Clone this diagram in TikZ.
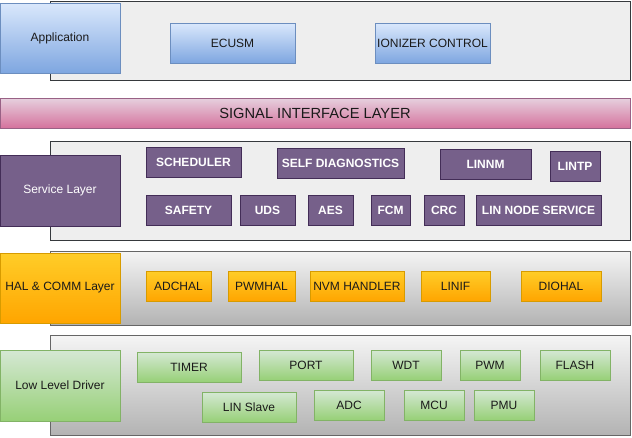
\documentclass[tikz,border=0pt]{standalone}
\usepackage{fontspec}
\setmainfont{Liberation Sans}
\definecolor{bgfill}{HTML}{EEEEEE}
\definecolor{bgline}{HTML}{36393D}
\definecolor{grtop}{HTML}{F5F5F5}
\definecolor{grbot}{HTML}{B3B3B3}
\definecolor{grline}{HTML}{666666}
\definecolor{bltop}{HTML}{DAE8FC}
\definecolor{blbot}{HTML}{7EA6E0}
\definecolor{blline}{HTML}{6C8EBF}
\definecolor{pktop}{HTML}{E6D0DE}
\definecolor{pkbot}{HTML}{D5739D}
\definecolor{pkline}{HTML}{996185}
\definecolor{pufill}{HTML}{76608A}
\definecolor{puline}{HTML}{432D57}
\definecolor{ortop}{HTML}{FFCD28}
\definecolor{orbot}{HTML}{FFA500}
\definecolor{orline}{HTML}{D79B00}
\definecolor{gntop}{HTML}{D5E8D4}
\definecolor{gnbot}{HTML}{97D077}
\definecolor{gnline}{HTML}{82B366}
\definecolor{txt}{HTML}{1A1A1A}
\newcommand\bx[7]{\node[#6, anchor=north west, minimum width={(#4-#2)*0.75pt}, minimum height={(#5-#3)*0.75pt}] (#1) at (#2,#3) {#7};}
\tikzset{
  base/.style={rectangle, draw, line width=0.75pt, inner sep=0pt, outer sep=0pt, text=txt, font=\fontsize{9}{11}\selectfont},
  plainbg/.style={base, fill=bgfill, draw=bgline},
  graybg/.style={base, top color=grtop, bottom color=grbot, draw=grline},
  bluebox/.style={base, top color=bltop, bottom color=blbot, draw=blline},
  pinkbox/.style={base, top color=pktop, bottom color=pkbot, draw=pkline, font=\fontsize{11}{13}\selectfont},
  purplebox/.style={base, fill=pufill, draw=puline, text=white, font=\fontsize{9}{11}\selectfont\bfseries},
  purplelayer/.style={base, fill=pufill, draw=puline, text=white},
  orangebox/.style={base, top color=ortop, bottom color=orbot, draw=orline},
  greenbox/.style={base, top color=gntop, bottom color=gnbot, draw=gnline},
}
\begin{document}
\begin{tikzpicture}[x=0.75pt,y=-0.75pt]
\useasboundingbox (0,0) rectangle (632,437);
% application row
\bx{appbg}{50}{1}{630}{80}{plainbg}{}
\bx{app}{0}{3}{120}{73}{bluebox}{Application}
\bx{ecusm}{170}{23}{295}{63}{bluebox}{ECUSM}
\bx{ion}{375}{23}{490}{63}{bluebox}{IONIZER CONTROL}
% signal interface
\bx{sil}{0}{98}{630}{128}{pinkbox}{SIGNAL INTERFACE LAYER}
% service layer
\bx{servbg}{50}{141}{630}{240}{plainbg}{}
\bx{serv}{0}{155}{120}{226}{purplelayer}{Service Layer}
\bx{sched}{146}{147}{241}{177}{purplebox}{SCHEDULER}
\bx{selfd}{277}{148}{404}{178}{purplebox}{SELF DIAGNOSTICS}
\bx{linnm}{440}{149}{531}{179}{purplebox}{LINNM}
\bx{lintp}{550}{151}{600}{181}{purplebox}{LINTP}
\bx{safety}{146}{195}{231}{225}{purplebox}{SAFETY}
\bx{uds}{240}{195}{295}{225}{purplebox}{UDS}
\bx{aes}{308}{195}{353}{225}{purplebox}{AES}
\bx{fcm}{371}{195}{410}{225}{purplebox}{FCM}
\bx{crc}{424}{195}{464}{225}{purplebox}{CRC}
\bx{lns}{476}{195}{601}{225}{purplebox}{LIN NODE SERVICE}
% HAL & COMM
\bx{halbg}{50}{251}{630}{325}{graybg}{}
\bx{hal}{0}{253}{120}{323}{orangebox}{HAL \& COMM Layer}
\bx{adchal}{146}{271}{211}{301}{orangebox}{ADCHAL}
\bx{pwmhal}{228}{271}{295}{301}{orangebox}{PWMHAL}
\bx{nvm}{310}{271}{404}{301}{orangebox}{NVM HANDLER}
\bx{linif}{421}{271}{490}{301}{orangebox}{LINIF}
\bx{diohal}{521}{271}{601}{301}{orangebox}{DIOHAL}
% low level driver
\bx{llbg}{50}{335}{630}{435}{graybg}{}
\bx{lld}{0}{350}{120}{421}{greenbox}{Low Level Driver}
\bx{timer}{137}{352}{241}{382}{greenbox}{TIMER}
\bx{port}{259}{350}{353}{380}{greenbox}{PORT}
\bx{wdt}{371}{350}{441}{380}{greenbox}{WDT}
\bx{pwm}{460}{350}{520}{380}{greenbox}{PWM}
\bx{flash}{540}{350}{610}{380}{greenbox}{FLASH}
\bx{linslave}{202}{392}{296}{422}{greenbox}{LIN Slave}
\bx{adc}{314}{390}{384}{420}{greenbox}{ADC}
\bx{mcu}{404}{390}{464}{420}{greenbox}{MCU}
\bx{pmu}{474}{390}{534}{420}{greenbox}{PMU}
\end{tikzpicture}
\end{document}
